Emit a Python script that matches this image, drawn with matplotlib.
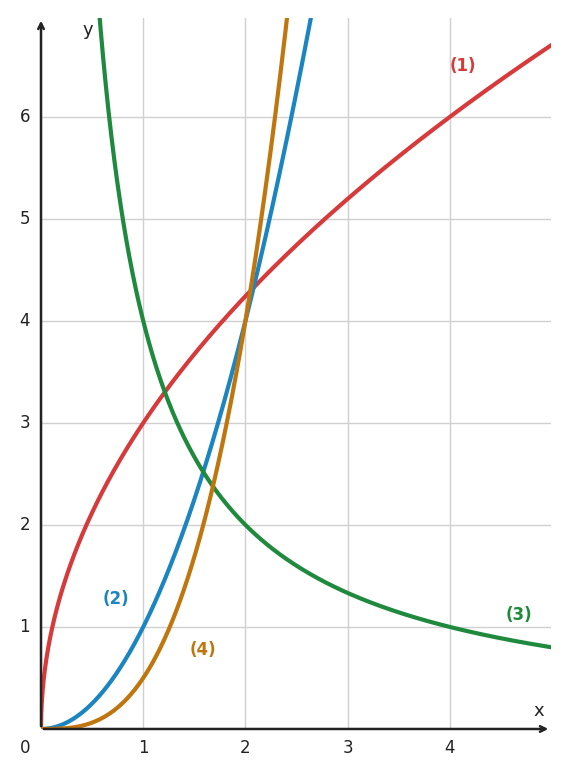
import numpy as np
import matplotlib.pyplot as plt

# curves: (1) a*sqrt(x), (2) a*x^2, (3) a/x, (4) a*x^3
labels = ["(1)", "(2)", "(3)", "(4)"]
coefs = [3.0, 1.0, 4.0, 0.5]
colors = ["#d63a3a", "#1a85c0", "#1f8a3e", "#c0760f"]
label_pos = [(4.13, 6.5), (0.73, 1.27), (4.68, 1.12), (1.58, 0.77)]
xticks = [1, 2, 3, 4]
yticks = [1, 2, 3, 4, 5, 6]

xmax, ymax = 4.99, 6.97

fig = plt.figure(figsize=(5.68, 7.78), dpi=100)
ax = fig.add_axes([0.0722, 0.063, 0.898, 0.914])
ax.set_xlim(0, xmax)
ax.set_ylim(0, ymax)

x = np.linspace(1e-4, xmax, 2000)
funcs = [lambda t, a: a * np.sqrt(t), lambda t, a: a * t**2,
         lambda t, a: a / t, lambda t, a: a * t**3]
for f, a, c, lab, (lx, ly) in zip(funcs, coefs, colors, labels, label_pos):
    y = f(x, a)
    y = np.where(y > ymax + 1, np.nan, y)
    ax.plot(x, y, color=c, lw=3, clip_on=True, zorder=3)
    ax.text(lx, ly, lab, color=c, fontsize=12, fontweight="bold",
            ha="center", va="center")

for t in xticks:
    ax.axvline(t, color="#d0d0d0", lw=1, zorder=0)
    ax.text(t, -0.19, str(t), ha="center", va="center", fontsize=12, color="#222222")
for t in yticks:
    ax.axhline(t, color="#d0d0d0", lw=1, zorder=0)
    ax.text(-0.16, t, str(t), ha="center", va="center", fontsize=12, color="#222222")
ax.text(-0.16, -0.19, "0", ha="center", va="center", fontsize=12, color="#222222")

for s in ax.spines.values():
    s.set_visible(False)
ax.set_xticks([])
ax.set_yticks([])
ax.annotate("", xy=(xmax, 0), xytext=(0, 0),
            arrowprops=dict(arrowstyle="->", color="#222222", lw=1.8), annotation_clip=False)
ax.annotate("", xy=(0, ymax), xytext=(0, 0),
            arrowprops=dict(arrowstyle="->", color="#222222", lw=1.8), annotation_clip=False)
ax.text(4.87, 0.18, "x", ha="center", va="center", fontsize=13, color="#222222")
ax.text(0.46, 6.85, "y", ha="center", va="center", fontsize=13, color="#222222")

fig.savefig("out.png", dpi=100)
